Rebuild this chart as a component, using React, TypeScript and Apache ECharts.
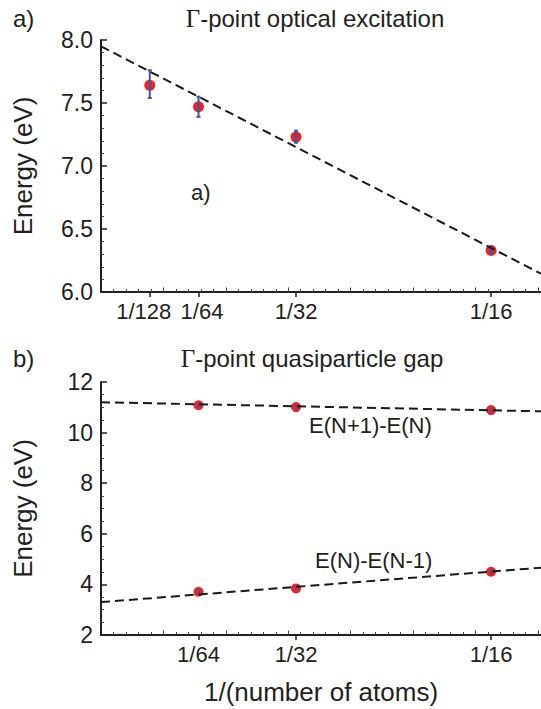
import React, { useEffect, useRef } from 'react';
import * as echarts from 'echarts';

// ---- data ----
const X_MAX = 0.0705;
const topTickValues = [1 / 128, 1 / 64, 1 / 32, 1 / 16];
const topTickLabels = ['1/128', '1/64', '1/32', '1/16'];
const bottomTickValues = [1 / 64, 1 / 32, 1 / 16];
const bottomTickLabels = ['1/64', '1/32', '1/16'];

// panel a: Γ-point optical excitation
const optX = [1 / 128, 1 / 64, 1 / 32, 1 / 16];
const optEnergy = [7.64, 7.47, 7.23, 6.33];
const optErrLow = [7.54, 7.39, 7.185, 6.31];
const optErrHigh = [7.76, 7.55, 7.28, 6.36];
const optFitX = [0, 0.0705];
const optFitY = [7.95, 6.145];

// panel b: Γ-point quasiparticle gap
const qpX = [1 / 64, 1 / 32, 1 / 16];
const addEnergy = [11.08, 11.01, 10.89]; // E(N+1)-E(N)
const removeEnergy = [3.71, 3.84, 4.5]; // E(N)-E(N-1)
const qpErr = [0.08, 0.08, 0.08];
const qpFitX = [0, 0.0705];
const addFitY = [11.2, 10.84];
const removeFitY = [3.3, 4.66];

const AXIS = '#231f20';
const RED = '#e8262a';
const BLUE = '#3b57a6';
const SANS = '"Liberation Sans", Arial, Helvetica, sans-serif';
const SERIF = '"Liberation Serif", "Times New Roman", serif';

const minorVals: number[] = [];
const mediumVals: number[] = [];
for (let k = 1; k * 0.002 <= X_MAX; k++) {
  const v = Number((k * 0.002).toFixed(4));
  if (k % 5 === 0) mediumVals.push(v);
  else minorVals.push(v);
}

function labelFor(values: number[], labels: string[], shift: boolean) {
  return (v: number) => {
    const i = values.findIndex((t) => Math.abs(t - v) < 1e-9);
    if (i < 0) return '';
    const s = labels[i];
    if (shift && s === '1/128') return '{l|' + s + '}';
    if (shift && s === '1/64') return '{r|' + s + '}';
    return s;
  };
}

function xAxesFor(grid: number, tickVals: number[], tickLabels: string[], shift: boolean, name?: string) {
  const common = { gridIndex: grid, type: 'value', position: 'bottom', min: 0, max: X_MAX, splitLine: { show: false } };
  const lblFont = { fontFamily: SANS, fontSize: 22, color: AXIS };
  return [
    {
      ...common,
      axisLine: { show: true, lineStyle: { color: AXIS, width: 2 } },
      axisTick: { show: true, customValues: tickVals, inside: false, length: 5, lineStyle: { color: AXIS, width: 1.5 } },
      axisLabel: {
        show: true,
        customValues: tickVals,
        formatter: labelFor(tickVals, tickLabels, shift),
        hideOverlap: false,
        ...lblFont,
        margin: 8,
        rich: {
          l: { ...lblFont, padding: [0, 12, 0, 0] },
          r: { ...lblFont, padding: [0, 0, 0, 7] },
        },
      },
      name: name,
      nameLocation: 'middle',
      nameGap: 44,
      nameTextStyle: { fontFamily: SANS, fontSize: 26, color: AXIS },
    },
    {
      ...common,
      axisLine: { show: true, lineStyle: { color: AXIS, width: 0, opacity: 0 } },
      axisTick: { show: true, customValues: minorVals, inside: true, length: 3, lineStyle: { color: '#444', width: 1 } },
      axisLabel: { show: false },
    },
    {
      ...common,
      axisLine: { show: true, lineStyle: { color: AXIS, width: 0, opacity: 0 } },
      axisTick: { show: true, customValues: mediumVals, inside: true, length: 4.5, lineStyle: { color: '#444', width: 1 } },
      axisLabel: { show: false },
    },
  ];
}

function errorBarSeries(xi: number, yi: number, data: number[][], cap: number, width: number) {
  return {
    type: 'custom',
    xAxisIndex: xi,
    yAxisIndex: yi,
    encode: { x: 0, y: [1, 2] },
    data,
    z: 4,
    renderItem: (params: any, api: any) => {
      const x = api.value(0);
      const lo = api.value(1);
      const hi = api.value(2);
      const p1 = api.coord([x, hi]);
      const p2 = api.coord([x, lo]);
      const style = { stroke: BLUE, lineWidth: width };
      return {
        type: 'group',
        children: [
          { type: 'line', shape: { x1: p1[0], y1: p1[1], x2: p2[0], y2: p2[1] }, style },
          { type: 'line', shape: { x1: p1[0] - cap, y1: p1[1], x2: p1[0] + cap, y2: p1[1] }, style },
          { type: 'line', shape: { x1: p2[0] - cap, y1: p2[1], x2: p2[0] + cap, y2: p2[1] }, style },
        ],
      };
    },
  };
}

export default function App() {
  const ref = useRef<HTMLDivElement>(null);
  useEffect(() => {
    if (!ref.current) return;
    const chart = echarts.init(ref.current, null, { renderer: 'svg' });

    const yCommon = (grid: number, min: number, max: number, interval: number, minorSplit: number, fmt: (v: number) => string) => ({
      gridIndex: grid,
      type: 'value',
      min,
      max,
      interval,
      splitLine: { show: false },
      axisLine: { show: true, lineStyle: { color: AXIS, width: 2 } },
      axisTick: { show: true, inside: true, length: 6, lineStyle: { color: AXIS, width: 1.5 } },
      minorTick: { show: true, splitNumber: minorSplit, length: 3, lineStyle: { color: '#444', width: 1 } },
      axisLabel: { formatter: fmt, fontFamily: SANS, fontSize: 23, color: AXIS, margin: 8 },
      name: 'Energy (eV)',
      nameLocation: 'middle',
      nameRotate: 90,
      nameGap: 65,
      nameTextStyle: { fontFamily: SANS, fontSize: 26, color: AXIS },
    });

    const titleStyle = {
      fontFamily: SANS,
      fontSize: 24,
      fontWeight: 'normal',
      color: AXIS,
      rich: { g: { fontFamily: SERIF, fontSize: 25, color: AXIS } },
    };

    chart.setOption({
      animation: false,
      backgroundColor: '#ffffff',
      title: [
        { text: 'a)', left: 8, top: 1, textStyle: { ...titleStyle } },
        { text: '{g|Γ}-point optical excitation', left: 310, top: 1, textAlign: 'center', textStyle: titleStyle },
        { text: 'b)', left: 8, top: 341, textStyle: { ...titleStyle } },
        { text: '{g|Γ}-point quasiparticle gap', left: 307, top: 341, textAlign: 'center', textStyle: titleStyle },
      ],
      grid: [
        { left: 101, top: 40, width: 440, height: 252 },
        { left: 101, top: 382, width: 440, height: 253 },
      ],
      xAxis: [
        ...xAxesFor(0, topTickValues, topTickLabels, true),
        ...xAxesFor(1, bottomTickValues, bottomTickLabels, false, '1/(number of atoms)'),
      ],
      yAxis: [
        yCommon(0, 6, 8, 0.5, 5, (v: number) => v.toFixed(1)),
        yCommon(1, 2, 12, 2, 4, (v: number) => String(v)),
      ],
      graphic: [
        { type: 'text', left: 191, top: 181, style: { text: 'a)', font: '22px ' + SANS, fill: AXIS } },
        { type: 'text', left: 309, top: 414, style: { text: 'E(N+1)-E(N)', font: '22px ' + SANS, fill: AXIS } },
        { type: 'text', left: 315, top: 549, style: { text: 'E(N)-E(N-1)', font: '22px ' + SANS, fill: AXIS } },
      ],
      series: [
        {
          type: 'scatter',
          xAxisIndex: 0,
          yAxisIndex: 0,
          data: optX.map((x, i) => [x, optEnergy[i]]),
          symbolSize: 11,
          itemStyle: { color: RED, opacity: 1 },
          z: 3,
        },
        errorBarSeries(0, 0, optX.map((x, i) => [x, optErrLow[i], optErrHigh[i]]), 2, 2),
        {
          type: 'line',
          xAxisIndex: 0,
          yAxisIndex: 0,
          data: optFitX.map((x, i) => [x, optFitY[i]]),
          symbol: 'none',
          lineStyle: { color: '#1a1a1a', width: 2, type: [9, 5] },
          z: 5,
        },
        {
          type: 'scatter',
          xAxisIndex: 3,
          yAxisIndex: 1,
          data: qpX.map((x, i) => [x, addEnergy[i]]),
          symbolSize: 10,
          itemStyle: { color: RED, opacity: 1 },
          z: 3,
        },
        {
          type: 'scatter',
          xAxisIndex: 3,
          yAxisIndex: 1,
          data: qpX.map((x, i) => [x, removeEnergy[i]]),
          symbolSize: 10,
          itemStyle: { color: RED, opacity: 1 },
          z: 3,
        },
        errorBarSeries(3, 1, qpX.map((x, i) => [x, addEnergy[i] - qpErr[i], addEnergy[i] + qpErr[i]]), 1, 1.5),
        errorBarSeries(3, 1, qpX.map((x, i) => [x, removeEnergy[i] - qpErr[i], removeEnergy[i] + qpErr[i]]), 1, 1.5),
        {
          type: 'line',
          xAxisIndex: 3,
          yAxisIndex: 1,
          data: qpFitX.map((x, i) => [x, addFitY[i]]),
          symbol: 'none',
          lineStyle: { color: '#1a1a1a', width: 2, type: [9, 5] },
          z: 5,
        },
        {
          type: 'line',
          xAxisIndex: 3,
          yAxisIndex: 1,
          data: qpFitX.map((x, i) => [x, removeFitY[i]]),
          symbol: 'none',
          lineStyle: { color: '#1a1a1a', width: 2, type: [9, 5] },
          z: 5,
        },
      ],
    });
    return () => chart.dispose();
  }, []);

  return (
    <div
      ref={ref}
      style={{ position: 'fixed', left: 0, top: 0, width: 541, height: 709, background: '#fff' }}
    />
  );
}
